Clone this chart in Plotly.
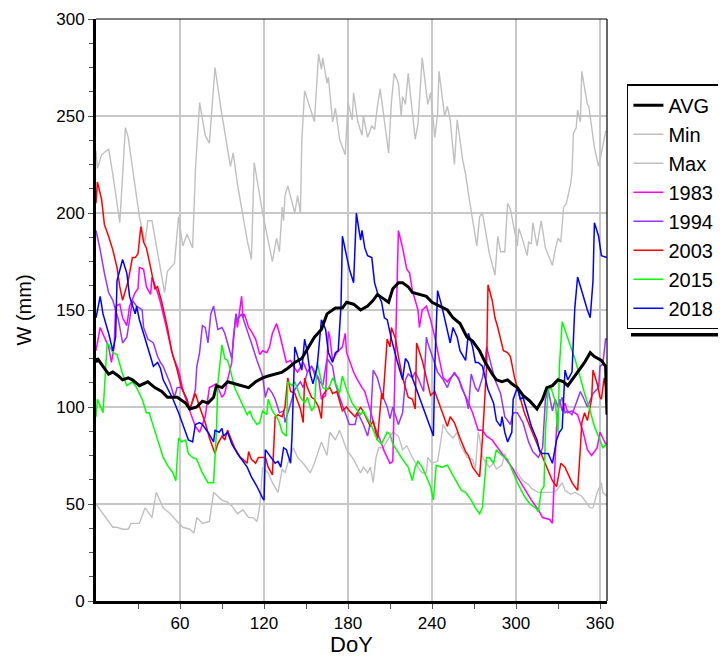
import plotly.graph_objects as go

# ---------------- data ----------------
max_day = [0,1,4,9,12,17,21,23,31,35,37,40,49,51,56,59,62,65,69,71,74,78,81,85,89,94,96,98,101,108,111,113,119,126,129,131,133,134,135,137,142,144,146,147,149,153,156,159,161,162,165,166,169,171,174,178,180,183,184,187,190,191,194,197,199,201,203,205,209,211,213,216,218,219,221,223,228,230,233,237,239,242,244,245,249,251,253,256,258,262,264,266,269,271,272,274,276,281,285,287,289,292,294,296,301,302,304,308,309,311,312,315,318,321,326,328,330,332,334,336,339,340,341,343,344,346,347,351,352,356,359,361,364,365]
max_val = [232,223,230,233,220,195,244,239,198,185,196,196,159,170,174,198,183,189,182,222,257,240,236,275,255,234,224,231,215,186,176,226,200,175,187,180,203,196,209,214,200,209,200,237,263,254,247,282,274,280,267,270,247,254,238,230,257,248,262,247,240,250,239,245,243,255,264,253,231,257,272,267,250,260,256,272,238,246,280,256,262,239,251,273,250,255,248,225,248,227,220,210,196,186,183,198,200,179,168,188,180,180,205,202,183,192,188,178,185,184,195,183,196,182,173,181,187,185,203,205,215,221,241,244,253,247,273,256,255,234,224,231,242,242]

min_day = [0,5,12,15,19,23,25,31,35,40,43,48,53,58,62,67,70,72,76,81,84,90,94,97,101,105,109,112,115,117,119,123,126,130,133,135,137,141,144,148,153,156,161,165,167,171,174,179,184,189,191,194,196,198,200,202,205,210,212,216,219,222,226,230,233,236,237,240,244,246,248,251,255,258,260,265,269,271,273,274,276,279,281,284,286,290,292,294,297,301,305,309,311,316,321,326,329,333,335,339,342,347,353,355,358,361,362,365]
min_val = [50,45,38,38,37,37,40,40,48,43,56,48,45,41,38,37,35,43,40,41,56,52,51,49,45,47,43,43,41,49,69,66,61,56,68,66,71,79,74,71,66,71,82,75,87,83,88,78,73,66,69,66,69,61,74,79,79,85,87,85,78,80,74,69,66,66,74,71,72,81,91,87,84,87,81,74,73,68,87,84,74,71,69,71,68,70,76,72,69,66,62,60,58,56,56,56,57,61,57,55,56,54,48,48,56,61,56,54]

avg_day = [0,1,5,9,12,16,19,23,26,31,37,42,47,51,58,64,67,72,76,80,84,86,90,94,99,104,109,114,119,123,128,133,137,142,147,151,156,161,165,171,176,179,184,189,194,198,201,205,209,212,216,219,223,226,231,236,240,246,251,255,260,265,269,274,278,283,286,290,294,297,301,305,310,315,319,322,326,330,334,337,341,346,349,353,356,361,364,365]
avg_val = [123,125,121,117,118,116,114,115,114,111,113,110,108,105,105,102,99,100,103,102,105,111,110,113,112,111,110,113,115,116,117,118,120,123,125,130,136,140,148,151,151,154,153,150,152,155,158,156,154,161,164,164,162,159,158,157,154,152,150,146,143,136,134,129,123,117,114,113,114,112,110,106,103,99,104,110,111,114,113,111,115,120,123,128,126,124,121,96]

y1983_day = [0,3,6,9,11,13,14,17,19,22,24,28,30,31,34,36,39,40,44,46,49,55,59,62,67,71,74,78,81,84,86,90,92,94,97,98,100,101,104,105,106,109,111,114,117,119,122,124,126,129,131,134,136,139,141,144,148,151,154,159,161,164,166,167,169,172,176,178,179,184,186,190,192,196,199,203,206,210,212,216,219,222,224,226,228,230,231,233,236,239,242,244,246,248,251,253,256,259,261,265,269,271,273,276,279,283,287,292,297,301,306,311,316,319,324,326,329,331,333,335,337,340,344,346,348,351,354,358,360,364,365]
y1983_val = [129,141,136,131,123,131,152,153,146,142,152,159,161,172,171,162,158,167,159,154,145,126,119,109,98,90,87,95,110,111,112,105,107,114,123,135,148,141,157,146,148,141,139,135,127,129,128,131,138,143,138,129,123,124,121,118,123,118,121,115,104,106,139,136,124,128,131,138,128,118,115,110,108,98,90,83,77,71,72,191,182,171,169,160,155,150,141,150,152,145,136,129,121,115,113,115,117,115,110,104,97,92,88,88,85,83,79,74,69,64,58,52,47,43,42,40,90,104,98,102,97,98,96,92,87,78,75,79,87,81,81]

y1994_day = [0,3,6,9,12,16,19,22,24,26,29,33,34,37,41,44,46,48,53,56,58,61,64,67,71,72,74,76,78,80,82,84,87,90,92,94,97,100,101,104,108,111,115,119,121,123,126,128,131,134,135,140,142,146,148,151,154,156,160,162,165,169,171,174,178,181,185,187,191,194,196,198,201,204,208,210,212,216,219,221,223,226,228,230,234,236,237,241,244,248,251,253,256,260,264,266,268,271,273,276,278,279,281,285,289,292,296,298,301,305,309,312,316,319,321,323,326,328,330,333,335,337,340,342,346,348,351,355,359,360,362,364,365]
y1994_val = [191,181,169,159,155,145,133,136,145,155,152,150,141,135,133,126,123,121,112,105,110,110,105,98,109,121,128,142,141,133,148,152,140,141,138,133,125,148,145,148,140,133,124,116,105,110,107,104,97,98,92,105,109,113,110,118,121,117,113,111,125,121,112,105,97,91,91,97,91,85,92,119,115,107,100,94,100,91,97,114,117,115,118,115,108,136,133,124,118,114,110,114,118,113,105,99,117,110,108,115,123,131,125,114,107,95,91,97,97,92,82,77,74,79,104,109,98,104,100,105,97,98,96,100,108,105,100,107,110,121,122,135,135]

y2003_day = [0,1,4,6,9,11,12,15,17,19,23,26,28,30,32,34,36,39,42,44,47,51,54,58,61,65,67,71,74,78,81,85,87,90,92,94,97,99,103,105,108,109,111,114,116,119,121,123,126,128,130,133,135,137,139,142,146,148,149,151,154,156,159,161,162,165,167,169,172,174,176,179,181,185,189,192,196,198,201,204,205,208,210,211,214,216,219,223,226,228,229,233,236,239,242,246,251,253,256,260,264,266,269,274,276,279,280,283,285,287,291,294,296,299,303,306,311,315,319,323,326,329,332,335,337,340,342,344,346,347,349,351,354,355,358,360,361,363,365]
y2003_val = [205,216,207,194,188,184,181,172,162,155,165,177,177,179,193,185,182,172,161,162,154,141,129,119,110,104,99,107,100,92,84,76,81,85,83,88,83,79,74,73,71,77,73,71,74,74,74,69,65,95,96,95,100,115,108,107,99,92,115,110,105,104,100,94,106,109,110,107,108,103,98,100,98,95,100,96,90,93,83,107,104,135,131,141,135,126,115,105,104,99,133,124,115,106,108,100,90,95,92,84,77,75,69,64,83,121,163,155,146,141,129,128,126,115,105,97,88,81,74,68,62,59,71,69,66,61,59,57,79,92,97,93,104,119,112,105,104,115,107]

y2015_day = [0,1,5,8,10,12,15,19,22,26,29,33,36,38,41,44,48,51,55,57,59,61,64,66,69,72,74,76,80,84,86,87,90,92,94,96,99,103,105,108,110,112,115,117,119,122,123,126,129,131,133,136,137,140,142,146,149,151,154,156,158,160,162,165,167,169,172,174,176,179,183,186,189,191,194,197,201,204,208,210,212,216,219,223,226,228,230,233,236,239,241,243,247,251,254,258,261,264,268,271,274,276,279,281,284,286,290,294,297,301,306,310,314,316,318,320,321,323,325,328,330,331,333,335,339,342,346,349,353,356,360,362,365]
y2015_val = [95,104,97,133,131,128,127,117,111,113,110,104,97,97,90,83,74,70,66,62,84,82,83,76,74,73,69,66,61,61,87,112,132,125,124,119,110,104,101,96,98,94,91,92,98,96,104,98,95,92,87,85,113,111,113,105,102,105,98,100,123,117,110,109,111,115,111,107,116,109,102,99,96,98,94,90,83,81,87,86,81,76,73,69,62,69,72,69,64,59,52,70,69,70,66,61,57,56,52,48,45,48,74,74,71,78,75,73,68,61,54,50,48,46,57,59,87,109,110,103,87,121,144,140,131,125,115,107,98,90,83,79,81]

y2018_day = [0,3,5,9,12,14,15,19,22,24,28,29,31,34,36,39,41,44,46,48,51,55,59,62,66,69,71,74,76,80,84,85,88,90,91,94,97,101,104,108,111,115,119,120,121,123,126,128,130,132,134,136,139,140,142,144,147,149,151,153,155,158,160,161,164,166,169,171,173,175,176,179,181,184,186,187,189,190,192,194,197,199,201,204,206,208,211,215,219,221,223,226,229,233,236,239,241,242,244,247,249,253,255,258,260,264,266,269,271,273,276,278,280,284,286,289,290,292,294,297,298,301,303,305,308,311,315,317,319,323,326,329,331,333,335,337,340,342,344,348,351,353,355,356,359,361,364,365]
y2018_val = [146,157,148,138,129,136,165,176,169,157,148,152,145,138,133,126,121,123,120,114,110,104,97,91,83,82,91,92,91,87,82,88,87,89,85,87,81,76,73,69,64,59,53,52,78,76,73,71,72,69,79,78,71,85,131,126,119,135,128,117,112,121,138,145,140,128,123,128,129,152,188,177,171,164,200,195,186,191,182,178,177,164,159,154,146,145,135,124,114,125,123,115,109,102,95,90,85,121,160,152,146,133,141,136,129,124,138,131,123,123,121,115,109,102,93,90,95,87,82,87,104,110,104,105,98,90,83,77,76,76,71,83,87,89,119,114,118,151,167,157,150,146,165,195,188,178,177,177]

x_tickvals = [60, 120, 180, 240, 300, 360]
x_minorvals = [30, 90, 150, 210, 270, 330]

# ---------------- figure ----------------
FONT = "Liberation Sans, Arial, sans-serif"
GRAY = "#c0c0c0"

series = [
    ("AVG", avg_day, avg_val, "#000000", 3.0, 1),
    ("Min", min_day, min_val, GRAY, 1.4, 2),
    ("Max", max_day, max_val, GRAY, 1.4, 3),
    ("1983", y1983_day, y1983_val, "#ff00ff", 1.5, 4),
    ("1994", y1994_day, y1994_val, "#9933ff", 1.5, 5),
    ("2003", y2003_day, y2003_val, "#ff0000", 1.5, 6),
    ("2015", y2015_day, y2015_val, "#00ff00", 1.5, 7),
    ("2018", y2018_day, y2018_val, "#0000ff", 1.5, 8),
]

fig = go.Figure()
# draw gray first, then years, AVG on top
draw_order = [1, 2, 3, 4, 5, 6, 7, 0]
for i in draw_order:
    name, xd, yd, col, w, rank = series[i]
    fig.add_trace(go.Scatter(x=xd, y=yd, mode="lines", name=name,
                             line=dict(color=col, width=w),
                             legendrank=rank))

# page body has an 8px margin, so the figure is 8px smaller each way
fig.update_layout(
    width=718, height=649,
    margin=dict(l=88, r=119, t=11, b=56, autoexpand=False),
    paper_bgcolor="white", plot_bgcolor="white",
    font=dict(family=FONT, size=17, color="black"),
    showlegend=True,
    legend=dict(x=1.039, y=0.888, xanchor="left", yanchor="top",
                bgcolor="white", bordercolor="black", borderwidth=1.5,
                font=dict(size=20, family=FONT), tracegroupgap=0,
                itemwidth=30),
    xaxis=dict(range=[0, 365], tickvals=x_tickvals,
               showgrid=True, gridcolor="#c8c8c8", gridwidth=1.5,
               showline=True, linecolor="black", linewidth=3,
               ticks="outside", ticklen=5, tickcolor="#555555",
               minor=dict(tickvals=x_minorvals, ticks="outside", ticklen=5,
                          tickcolor="#555555", showgrid=False),
               zeroline=False,
               title=dict(text="DoY", font=dict(size=22), standoff=6)),
    yaxis=dict(range=[0, 300], tickvals=[0, 50, 100, 150, 200, 250, 300],
               showgrid=True, gridcolor="#c8c8c8", gridwidth=1.5,
               showline=True, linecolor="black", linewidth=3,
               ticks="outside", ticklen=5, tickcolor="#555555",
               minor=dict(dtick=12.5, ticks="outside", ticklen=4,
                          tickcolor="#555555", showgrid=False),
               zeroline=False,
               title=dict(text="W (mm)", font=dict(size=20), standoff=20)),
    shapes=[
        # thin top and right frame
        dict(type="line", xref="paper", yref="paper", x0=0, x1=1, y0=1, y1=1,
             line=dict(color="black", width=1.2)),
        dict(type="line", xref="paper", yref="paper", x0=1, x1=1, y0=0, y1=1,
             line=dict(color="black", width=1.2)),
        # legend drop shadow (strip just below the legend box)
        dict(type="rect", xref="paper", yref="paper", x0=1.047, x1=1.22,
             y0=0.4545, y1=0.4605, fillcolor="black",
             line=dict(width=0), layer="above"),
    ],
)

fig.write_html("out.html")
